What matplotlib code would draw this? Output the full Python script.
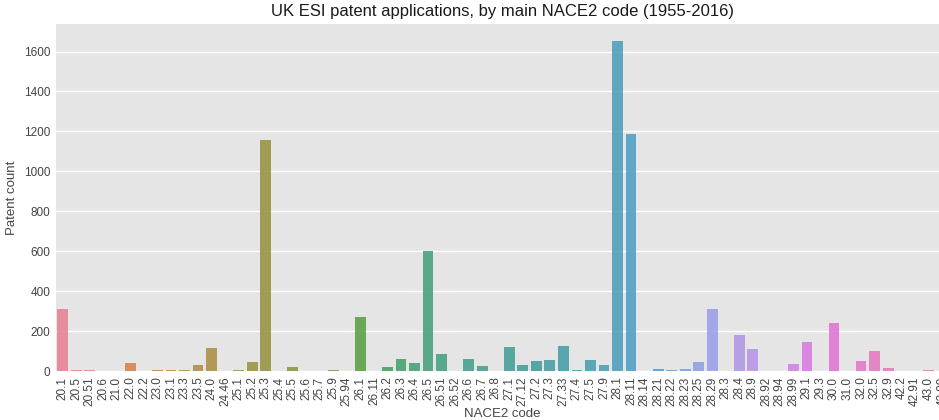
import matplotlib
matplotlib.use("Agg")
import matplotlib.pyplot as plt
import seaborn as sns
import numpy as np

codes = ["20.1", "20.5", "20.51", "20.6", "21.0", "22.0", "22.2", "23.0", "23.1", "23.3",
         "23.5", "24.0", "24.46", "25.1", "25.2", "25.3", "25.4", "25.5", "25.6", "25.7",
         "25.9", "25.94", "26.1", "26.11", "26.2", "26.3", "26.4", "26.5", "26.51", "26.52",
         "26.6", "26.7", "26.8", "27.1", "27.12", "27.2", "27.3", "27.33", "27.4", "27.5",
         "27.9", "28.1", "28.11", "28.14", "28.21", "28.22", "28.23", "28.25", "28.29", "28.3",
         "28.4", "28.9", "28.92", "28.94", "28.99", "29.1", "29.3", "30.0", "31.0", "32.0",
         "32.5", "32.9", "42.2", "42.91", "43.0", "43.99"]
counts = [308, 5, 5, 1, 1, 38, 1, 4, 4, 4,
          32, 113, 1, 4, 47, 1155, 1, 18, 0, 1,
          7, 0, 270, 1, 20, 58, 42, 600, 85, 1,
          58, 25, 1, 118, 32, 48, 55, 125, 7, 53,
          32, 1655, 1185, 1, 10, 6, 10, 47, 308, 1,
          178, 108, 1, 1, 37, 145, 1, 242, 1, 48,
          102, 13, 1, 1, 5, 1]

plt.rcParams['font.family'] = ['Liberation Sans', 'DejaVu Sans']

fig = plt.figure(figsize=(9.39, 4.2), dpi=100)
ax = fig.add_axes([56/939, 49/420, 893/939, 347/420])
ax.set_facecolor('#E5E5E5')

pal = sns.color_palette("husl", len(codes))
pal = [sns.desaturate(c, 0.75) for c in pal]
x = np.arange(len(codes))
ax.bar(x, counts, width=0.8, color=pal, alpha=0.88, zorder=2)

ax.set_xlim(-0.5, len(codes) - 0.5)
ax.set_ylim(0, max(counts) * 1.05)
ax.set_yticks(np.arange(0, 1700, 200))
ax.set_xticks(x)
ax.set_xticklabels(codes, rotation=90)
ax.tick_params(axis='both', length=0, labelsize=8.5, colors='#444444', pad=4)
ax.yaxis.grid(True, color='white', linewidth=1.0, zorder=1)
ax.xaxis.grid(False)
ax.set_axisbelow(True)
for s in ax.spines.values():
    s.set_visible(False)

ax.set_title("UK ESI patent applications, by main NACE2 code (1955-2016)", fontsize=12, color='#1a1a1a', pad=6)
ax.set_ylabel("Patent count", fontsize=9.5, color='#444444')
ax.set_xlabel("NACE2 code", fontsize=9.5, color='#444444', labelpad=1)

fig.savefig("out.png", dpi=100)
